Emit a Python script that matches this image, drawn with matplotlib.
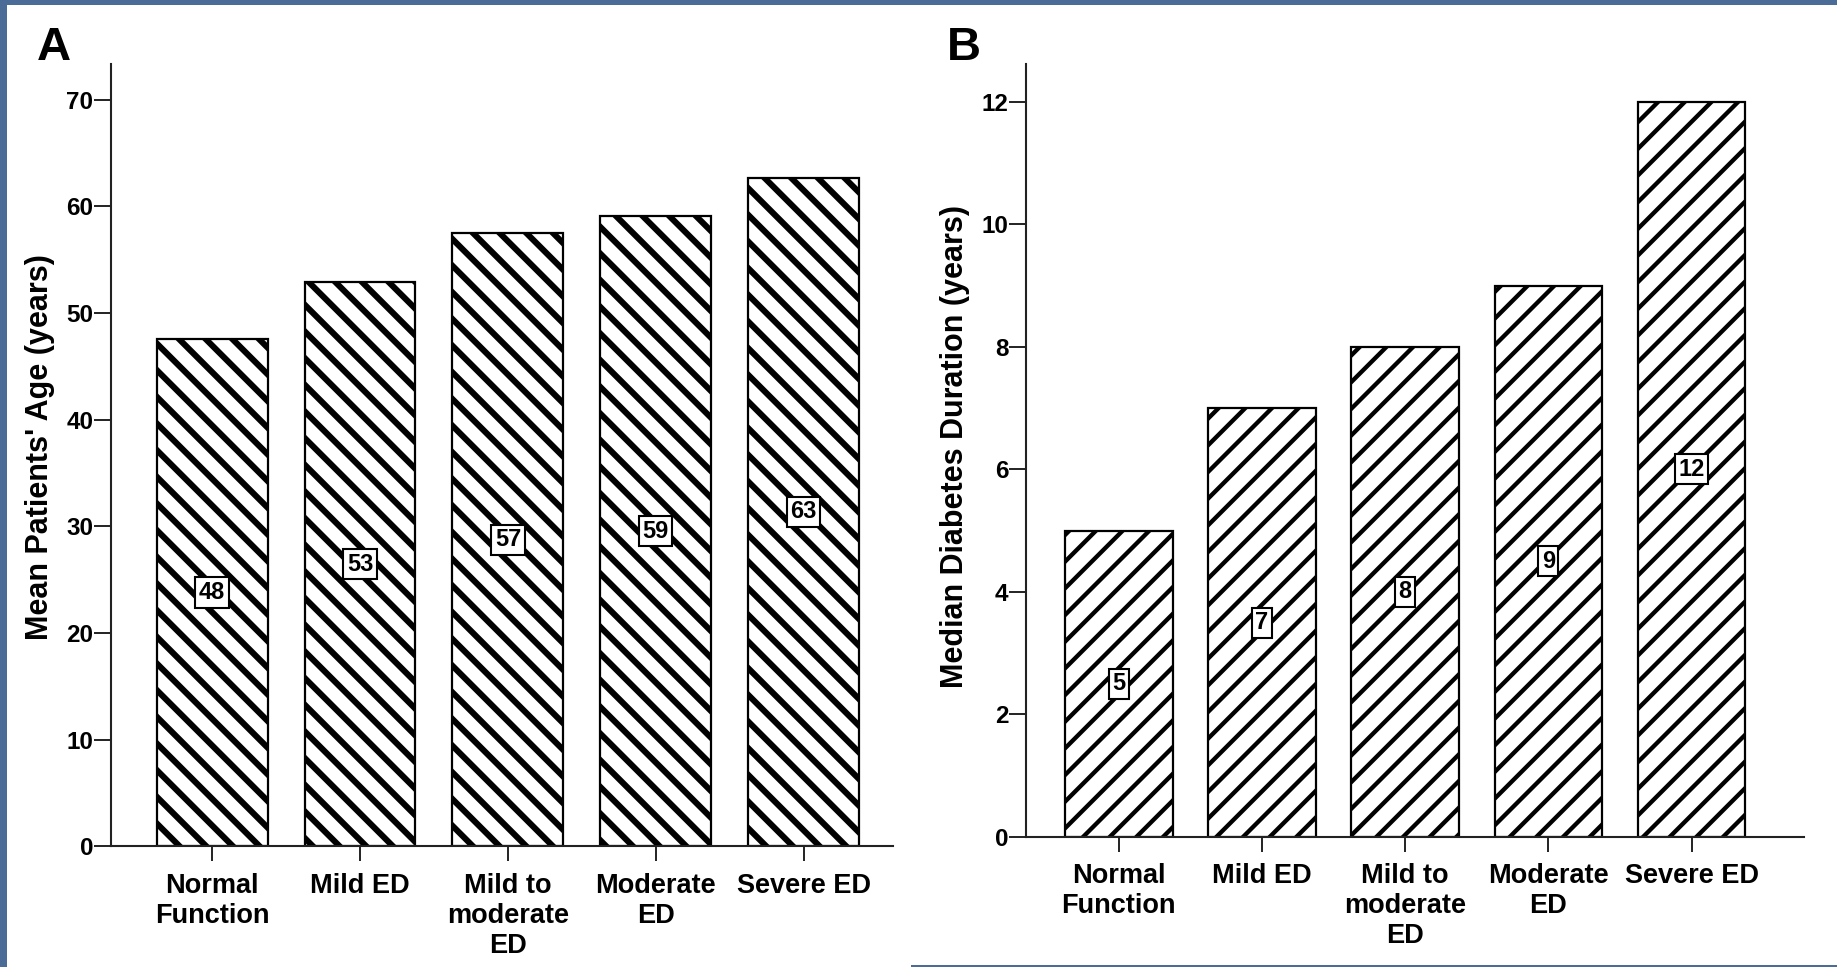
import matplotlib
matplotlib.use('Agg')
import matplotlib.pyplot as plt
from matplotlib.patches import Rectangle

# categories shared by both panels
groups = ["Normal\nFunction", "Mild ED", "Mild to\nmoderate\nED", "Moderate\nED", "Severe ED"]

# panel A: mean patients' age
age_mean = [47.6, 52.9, 57.5, 59.1, 62.7]
age_labels = ["48", "53", "57", "59", "63"]
age_ticks = [0, 10, 20, 30, 40, 50, 60, 70]

# panel B: median diabetes duration
dur_median = [5, 7, 8, 9, 12]
dur_labels = ["5", "7", "8", "9", "12"]
dur_ticks = [0, 2, 4, 6, 8, 10, 12]

# figure drawn at 80 dpi so a single hatch char gives ~13 px stripe spacing;
# all point sizes are scaled by S to keep the pixel sizes of a 100 dpi layout
DPI = 80
S = 100.0 / DPI

plt.rcParams['font.family'] = ['Liberation Sans', 'DejaVu Sans']
plt.rcParams['font.weight'] = 'bold'
plt.rcParams['hatch.color'] = 'k'

slide_blue = '#4a6c96'
axis_col = '#222222'

W, H = 1837.0, 967.0
fig = plt.figure(figsize=(W / DPI, H / DPI), dpi=DPI, facecolor=slide_blue)
# white page on the blue slide background
fig.add_artist(Rectangle((7 / W, 0), 1 - 7 / W, 1 - 5 / H, transform=fig.transFigure,
                         facecolor='white', edgecolor='none', zorder=0))
fig.add_artist(Rectangle((911 / W, 0), 1 - 911 / W, 2.5 / H, transform=fig.transFigure,
                         facecolor=slide_blue, edgecolor='none', zorder=0))


def draw_panel(ax, values, labels, ticks, ylim, xlim, hatch, hatch_lw, ylabel, label_y):
    x = list(range(len(values)))
    plt.rcParams['hatch.linewidth'] = hatch_lw
    bars = ax.bar(x, values, 0.75, color='white', edgecolor='k', linewidth=1.6 * S,
                  hatch=hatch, zorder=2)
    for b in bars:
        if hasattr(b, 'set_hatch_linewidth'):
            b.set_hatch_linewidth(hatch_lw)
    # value boxes at mid-height of each bar
    for xi, v, lab in zip(x, values, labels):
        ax.text(xi, v / 2, lab, ha='center', va='center', fontsize=17 * S, fontweight='bold',
                zorder=3, bbox=dict(boxstyle='square,pad=0.15', facecolor='white',
                                    edgecolor='k', linewidth=1.5 * S))
    ax.set_xlim(*xlim)
    ax.set_ylim(*ylim)
    ax.set_xticks(x)
    ax.set_xticklabels(groups, fontsize=19.5 * S, fontweight='bold', linespacing=1.2)
    ax.set_yticks(ticks)
    ax.set_yticklabels([str(t) for t in ticks], fontsize=17.5 * S, fontweight='bold')
    ax.tick_params(axis='y', length=12 * S, width=1.4 * S, pad=1 * S, color=axis_col)
    ax.tick_params(axis='x', length=11 * S, width=1.4 * S, pad=8 * S, color=axis_col)
    ax.spines['top'].set_visible(False)
    ax.spines['right'].set_visible(False)
    for s in ('left', 'bottom'):
        ax.spines[s].set_color(axis_col)
        ax.spines[s].set_linewidth(1.5 * S)
    ax.set_facecolor('none')
    ax.set_ylabel(ylabel, fontsize=22 * S, fontweight='bold')
    ax.yaxis.set_label_coords(-0.072, label_y)


axA = fig.add_axes([0.0606, 0.1248, 0.4254, 0.8085])
draw_panel(axA, age_mean, age_labels, age_ticks, (0, 73.3), (-0.681, 4.602),
           '\\', 5.5, "Mean Patients' Age (years)", 0.511)

axB = fig.add_axes([0.5587, 0.1345, 0.4233, 0.7988])
draw_panel(axB, dur_median, dur_labels, dur_ticks, (0, 12.61), (-0.646, 4.785),
           '/', 3.9, "Median Diabetes Duration (years)", 0.505)

# fallback in case the hatch width is only read when drawing
plt.rcParams['hatch.linewidth'] = 4.8

fig.text(37 / W, 1 - 60 / H, 'A', fontsize=34 * S, fontweight='bold', va='baseline', ha='left')
fig.text(947 / W, 1 - 60 / H, 'B', fontsize=34 * S, fontweight='bold', va='baseline', ha='left')

fig.savefig('out.png', dpi=DPI, facecolor=slide_blue)
